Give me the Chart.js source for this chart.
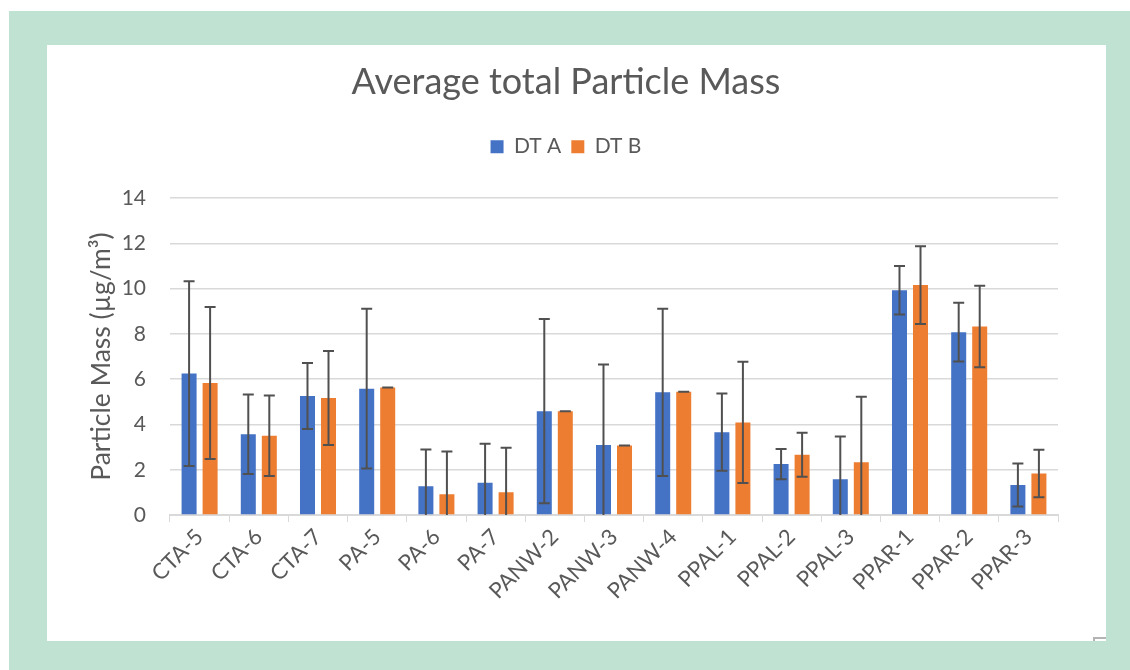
<!DOCTYPE html>
<html>
<head>
<meta charset="utf-8">
<script src="https://cdn.jsdelivr.net/npm/chart.js@4.4.1/dist/chart.umd.min.js"></script>
<style>
  html, body { margin: 0; padding: 0; background: #ffffff; width: 1130px; height: 670px; overflow: hidden; }
  #frame { position: absolute; left: 9px; top: 11px; width: 1121px; height: 659px; background: #bfe2d2; }
  #panel { position: absolute; left: 47px; top: 45px; width: 1059px; height: 596px; background: #ffffff; }
  #handle { position: absolute; left: 1093px; top: 637px; width: 13px; height: 4px; border-top: 2px solid #b4b4b4; border-left: 2px solid #b4b4b4; box-sizing: border-box; }
</style>
</head>
<body>
<div id="frame"></div>
<div id="panel"><canvas id="c"></canvas></div>
<div id="handle"></div>
<script>
// ---- data ----
const categories = ['CTA-5','CTA-6','CTA-7','PA-5','PA-6','PA-7','PANW-2','PANW-3','PANW-4','PPAL-1','PPAL-2','PPAL-3','PPAR-1','PPAR-2','PPAR-3'];
const dtA    = [6.25, 3.57, 5.26, 5.58, 1.27, 1.42, 4.59, 3.09, 5.42, 3.66, 2.25, 1.58, 9.93, 8.08, 1.33];
const dtAErr = [4.08, 1.76, 1.46, 3.53, 1.63, 1.73, 4.07, 3.56, 3.70, 1.71, 0.67, 1.89, 1.07, 1.30, 0.95];
const dtB    = [5.83, 3.50, 5.17, 5.63, 0.92, 1.00, 4.58, 3.07, 5.45, 4.09, 2.66, 2.33, 10.16, 8.33, 1.83];
const dtBErr = [3.36, 1.78, 2.08, 0.00, 1.89, 1.97, 0.00, 0.00, 0.00, 2.68, 0.97, 2.90, 1.72, 1.80, 1.05];
const yTicks = [0, 2, 4, 6, 8, 10, 12, 14];

const FONT = 'Lato, "Open Sans", sans-serif';
const TXT = '#595959';

const errorBars = {
  id: 'errorBars',
  afterDatasetsDraw(chart) {
    const ctx = chart.ctx, ca = chart.chartArea, y = chart.scales.y;
    ctx.save();
    ctx.beginPath();
    ctx.rect(ca.left, ca.top - 20, ca.right - ca.left, ca.bottom - ca.top + 20);
    ctx.clip();
    ctx.strokeStyle = '#505050';
    ctx.lineWidth = 2;
    chart.data.datasets.forEach((ds, di) => {
      const meta = chart.getDatasetMeta(di);
      meta.data.forEach((bar, i) => {
        const v = ds.data[i], e = ds.errors[i];
        const yt = y.getPixelForValue(v + e), yb = y.getPixelForValue(v - e);
        const x = bar.x, cw = 5.5;
        ctx.beginPath();
        ctx.moveTo(x, yt); ctx.lineTo(x, yb);
        ctx.moveTo(x - cw, yt); ctx.lineTo(x + cw, yt);
        ctx.moveTo(x - cw, yb); ctx.lineTo(x + cw, yb);
        ctx.stroke();
      });
    });
    ctx.restore();
  }
};

const legendSpacer = {
  id: 'legendSpacer',
  beforeInit(chart) {
    const fit = chart.legend.fit;
    chart.legend.fit = function () { fit.call(this); this.height += 31; };
  }
};

new Chart(document.getElementById('c'), {
  type: 'bar',
  data: {
    labels: categories,
    datasets: [
      { label: 'DT A', data: dtA, errors: dtAErr, backgroundColor: '#4472c4', categoryPercentage: 0.71, barPercentage: 0.714 },
      { label: 'DT B', data: dtB, errors: dtBErr, backgroundColor: '#ed7d31', categoryPercentage: 0.71, barPercentage: 0.714 }
    ]
  },
  plugins: [errorBars, legendSpacer],
  options: {
    responsive: true,
    maintainAspectRatio: false,
    animation: false,
    layout: { padding: { left: 0, right: 21, top: 0, bottom: 0 } },
    plugins: {
      title: {
        display: true,
        text: 'Average total Particle Mass',
        color: TXT,
        font: { family: FONT, size: 36, weight: 'normal' },
        padding: { top: 16, bottom: 22 }
      },
      legend: {
        display: true,
        labels: {
          color: TXT,
          font: { family: FONT, size: 21 },
          boxWidth: 13, boxHeight: 13, padding: 10
        }
      },
      tooltip: { enabled: false }
    },
    scales: {
      x: {
        grid: { display: true, drawOnChartArea: false, drawTicks: true, tickLength: 7, color: '#d9d9d9', offset: true },
        border: { display: true, color: '#d9d9d9', width: 2 },
        ticks: {
          color: TXT, font: { family: FONT, size: 22 },
          maxRotation: 45, minRotation: 45, autoSkip: false, padding: 2
        },
        afterFit(s) { s.height = 126; }
      },
      y: {
        min: 0, max: 14,
        afterBuildTicks(s) { s.ticks = yTicks.map(v => ({ value: v })); },
        grid: { color: '#d9d9d9', lineWidth: 1.5, drawTicks: false },
        border: { display: false },
        ticks: { color: TXT, font: { family: FONT, size: 21 }, padding: 24 },
        title: {
          display: true,
          text: 'Particle Mass (µg/m³)',
          color: TXT,
          font: { family: FONT, size: 26.5 },
          padding: { top: 39, bottom: 0 }
        },
        afterFit(s) { s.width = 123; }
      },
      yRight: {
        type: 'linear',
        position: 'right',
        display: true,
        grid: { display: false, drawTicks: false },
        border: { display: false },
        ticks: { display: false },
        afterFit(s) { s.width = 27; }
      }
    }
  }
});
</script>
</body>
</html>
